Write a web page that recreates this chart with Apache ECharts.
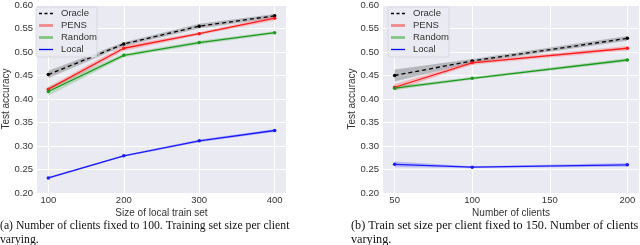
<!DOCTYPE html>
<html><head><meta charset="utf-8">
<script src="https://cdn.jsdelivr.net/npm/echarts@6/dist/echarts.min.js"></script>
<style>html,body{margin:0;padding:0;background:#fff}#c{width:640px;height:245px}</style>
</head><body><div id="c"></div>
<script>
// ---- data: panel (a) ----
const xA = [100, 200, 300, 400];
const oracleA = [0.452, 0.517, 0.555, 0.577];
const pensA   = [0.421, 0.508, 0.539, 0.572];
const randomA = [0.416, 0.493, 0.520, 0.541];
const localA  = [0.232, 0.279, 0.311, 0.333];
const oracleAErr = [0.008, 0.004, 0.005, 0.004];
const pensAErr   = [0.005, 0.006, 0.003, 0.005];
const randomAErr = [0.009, 0.004, 0.004, 0.003];
const localAErr  = [0.002, 0.002, 0.003, 0.003];
// ---- data: panel (b) ----
const xB = [50, 100, 200];
const oracleB = [0.450, 0.481, 0.529];
const pensB   = [0.425, 0.477, 0.508];
const randomB = [0.423, 0.444, 0.483];
const localB  = [0.261, 0.255, 0.260];
const oracleBErr = [0.013, 0.004, 0.005];
const pensBErr   = [0.007, 0.004, 0.005];
const randomBErr = [0.004, 0.003, 0.004];
const localBErr  = [0.006, 0.002, 0.004];
// ---- ticks / labels ----
const xTicksA = [100, 200, 300, 400];
const xTicksB = [50, 100, 150, 200];
const legendNames = ['Oracle', 'PENS', 'Random', 'Local'];
const xNameA = 'Size of local train set';
const xNameB = 'Number of clients';
const yName = 'Test accuracy';
const captionA = ['(a) Number of clients fixed to 100. Training set size per client', 'varying.'];
const captionB = ['(b) Train set size per client fixed to 150. Number of clients', 'varying.'];

const COL = {Oracle:'#000000', PENS:'#ff1a1a', Random:'#1a9a1a', Local:'#1a1aff'};
const BAND = {Oracle:'rgba(0,0,0,0.22)', PENS:'rgba(255,0,0,0.2)', Random:'rgba(0,140,0,0.2)', Local:'rgba(0,0,255,0.2)'};
const LEGCOL = {Oracle:'#000', PENS:'#f28a8a', Random:'#86c486', Local:'#0000ff'};
const FONT = 'Liberation Sans';
const TXT = '#333333';

function zip(xs, ys){ return xs.map((x,i)=>[x, ys[i]]); }
function band(gi, xs, mean, err, name){
  return {type:'custom', xAxisIndex:gi, yAxisIndex:gi, silent:true, z:1, clip:true,
    data:[[xs[0], mean[0]]],
    renderItem:function(params, api){
      const pts=[];
      for(let i=0;i<xs.length;i++) pts.push(api.coord([xs[i], mean[i]+err[i]]));
      for(let i=xs.length-1;i>=0;i--) pts.push(api.coord([xs[i], mean[i]-err[i]]));
      return {type:'polygon', shape:{points:pts}, style:{fill:BAND[name], stroke:null}};
    }};
}
function line(gi, xs, ys, name){
  return {type:'line', name:name, xAxisIndex:gi, yAxisIndex:gi, data:zip(xs, ys), z:3,
    symbol:'circle', symbolSize:3.5, showSymbol:true, animation:false,
    itemStyle:{color:COL[name]},
    lineStyle:{color:COL[name], width:1.3, type: name==='Oracle' ? [4,3] : 'solid'}};
}
function xAxis(gi, min, max, ticks, name){
  return {type:'value', gridIndex:gi, min:min, max:max, name:name, nameLocation:'middle', nameGap:15,
    nameMoveOverlap:false,
    nameTextStyle:{fontFamily:FONT, fontSize:10, color:TXT},
    axisLine:{show:false}, axisTick:{show:false, customValues:ticks},
    axisLabel:{customValues:ticks, fontFamily:FONT, fontSize:9.5, color:TXT, margin:2},
    splitLine:{show:true, lineStyle:{color:'#ffffff', width:1}}};
}
function yAxis(gi){
  return {type:'value', gridIndex:gi, min:0.2, max:0.6, interval:0.05, name:yName, nameLocation:'middle', nameGap:26,
    nameMoveOverlap:false,
    nameTextStyle:{fontFamily:FONT, fontSize:10, color:TXT},
    axisLine:{show:false}, axisTick:{show:false},
    axisLabel:{fontFamily:FONT, fontSize:9.5, color:TXT, margin:4, formatter:v=>v.toFixed(2)},
    splitLine:{show:true, lineStyle:{color:'#ffffff', width:1}}};
}
function legend(x0, y0){
  const els=[{type:'rect', shape:{x:x0, y:y0, width:61, height:50, r:2}, style:{fill:'rgba(234,234,242,0.9)', stroke:'#d4d4dc', lineWidth:0.8}, z:10}];
  legendNames.forEach((n,i)=>{
    const yy = y0 + 6.5 + i*12;
    els.push({type:'line', shape:{x1:x0+3, y1:yy, x2:x0+17, y2:yy},
      style:{stroke:LEGCOL[n], lineWidth: n==='Oracle'||n==='Local' ? 1.3 : 2.8, lineDash: n==='Oracle'?[3,2.5]:null}, z:11});
    els.push({type:'text', x:x0+25, y:yy, style:{text:n, fontFamily:FONT, fontSize:9.5, fill:TXT, verticalAlign:'middle'}, z:11});
  });
  return els;
}
function caption(x, lines, sx){
  return lines.map((t,i)=>({type:'text', x:x, y:219+i*14, scaleX:sx,
    style:{text:t, fontFamily:'Liberation Serif', fontSize:13, fill:'#111'}}));
}

const chart = echarts.init(document.getElementById('c'), null, {renderer:'canvas'});
chart.setOption({
  animation:false,
  backgroundColor:'#ffffff',
  grid:[
    {left:31, top:3, width:255, height:190, show:true, backgroundColor:'#eaeaf2', borderWidth:0},
    {left:383, top:3, width:256, height:190, show:true, backgroundColor:'#eaeaf2', borderWidth:0}
  ],
  xAxis:[xAxis(0, 85, 415, xTicksA, xNameA), xAxis(1, 42.5, 207.5, xTicksB, xNameB)],
  yAxis:[yAxis(0), yAxis(1)],
  series:[
    band(0, xA, oracleA, oracleAErr, 'Oracle'), band(0, xA, pensA, pensAErr, 'PENS'),
    band(0, xA, randomA, randomAErr, 'Random'), band(0, xA, localA, localAErr, 'Local'),
    line(0, xA, oracleA, 'Oracle'), line(0, xA, pensA, 'PENS'), line(0, xA, randomA, 'Random'), line(0, xA, localA, 'Local'),
    band(1, xB, oracleB, oracleBErr, 'Oracle'), band(1, xB, pensB, pensBErr, 'PENS'),
    band(1, xB, randomB, randomBErr, 'Random'), band(1, xB, localB, localBErr, 'Local'),
    line(1, xB, oracleB, 'Oracle'), line(1, xB, pensB, 'PENS'), line(1, xB, randomB, 'Random'), line(1, xB, localB, 'Local')
  ],
  graphic: [].concat(legend(36, 7), legend(388, 7), caption(0, captionA, 0.9), caption(351, captionB, 0.94))
});
</script></body></html>
